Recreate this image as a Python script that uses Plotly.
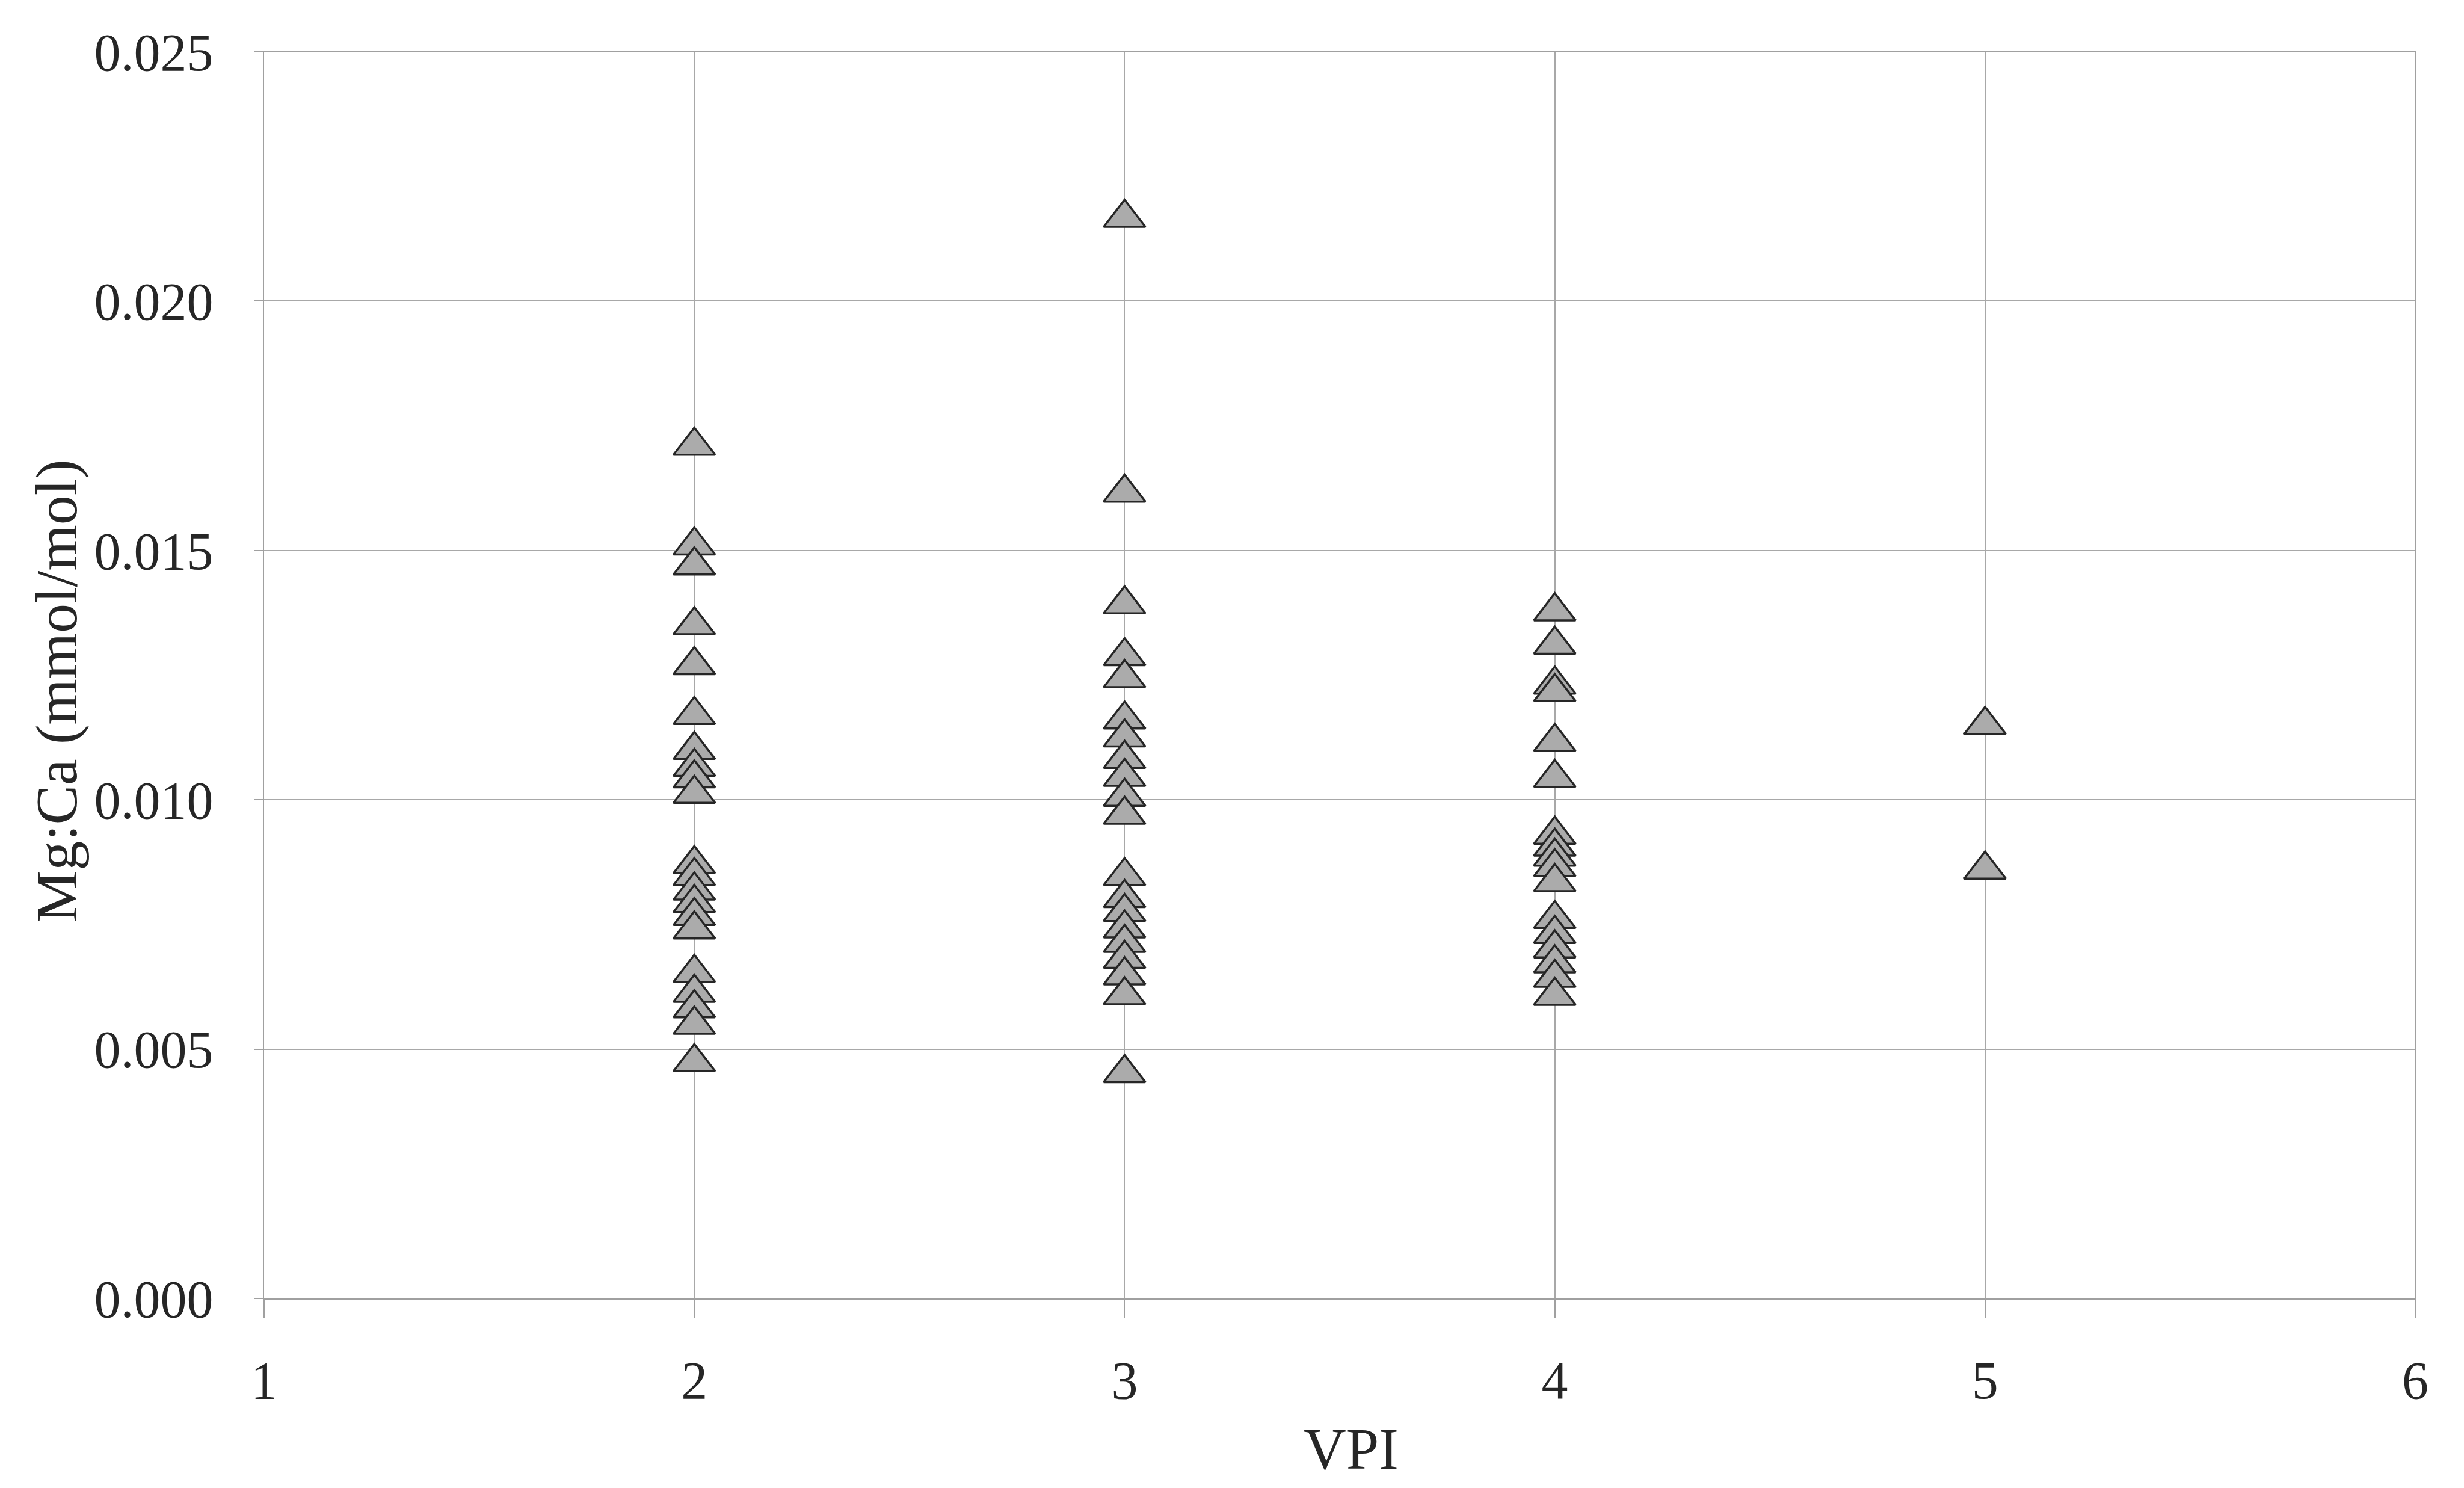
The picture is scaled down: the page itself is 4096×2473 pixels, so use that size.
import plotly.graph_objects as go

# VPI categories and Mg:Ca values (mmol/mol)
vpi2 = [0.0171, 0.0151, 0.0147, 0.0135, 0.0127, 0.0117, 0.0110, 0.01066, 0.01043, 0.01012,
        0.00871, 0.00847, 0.00818, 0.00793, 0.00767, 0.00740,
        0.00653, 0.00613, 0.00582, 0.00549, 0.00474]
vpi3 = [0.02167, 0.01616, 0.01392, 0.01288, 0.01244,
        0.01161, 0.01125, 0.01082, 0.01046, 0.01006, 0.00970,
        0.00847, 0.00803, 0.00775, 0.00742, 0.00713, 0.00681, 0.00648, 0.00608,
        0.00452]
vpi4 = [0.01378, 0.01311, 0.01231, 0.01216, 0.01116, 0.01044,
        0.00930, 0.00906, 0.00886, 0.00865, 0.00835,
        0.00761, 0.00731, 0.00702, 0.00672, 0.00643, 0.00607]
vpi5 = [0.0115, 0.0086]

groups = {2: vpi2, 3: vpi3, 4: vpi4, 5: vpi5}

x_ticks = [1, 2, 3, 4, 5, 6]
y_ticks = [0.000, 0.005, 0.010, 0.015, 0.020, 0.025]

xs, ys = [], []
for k, vals in groups.items():
    xs += [k] * len(vals)
    ys += vals

fig = go.Figure()
fig.add_trace(go.Scatter(
    x=xs, y=ys, mode="markers",
    marker=dict(symbol="triangle-up", size=60, color="#ababab",
                line=dict(color="#262626", width=3.5)),
    showlegend=False, hoverinfo="skip"))

axis_common = dict(showgrid=True, gridcolor="#a8a8a8", gridwidth=2,
                   showline=True, linecolor="#a0a0a0", linewidth=2, mirror=True,
                   ticks="outside", tickcolor="#a0a0a0", tickwidth=2,
                   zeroline=False,
                   tickfont=dict(family="Liberation Serif", size=88, color="#262626"))

fig.update_xaxes(range=[1, 6], tickvals=x_ticks, ticklen=30, ticklabelstandoff=28, **axis_common)
fig.update_yaxes(range=[0, 0.025], tickvals=y_ticks, tickformat=".3f", ticklen=15,
                 ticklabelstandoff=50, **axis_common)

fig.add_annotation(text="Mg:Ca (mmol/mol)", xref="paper", yref="paper",
                   x=-0.0965, y=0.487, xanchor="center", yanchor="middle",
                   textangle=-90, showarrow=False,
                   font=dict(family="Liberation Serif", size=98, color="#262626"))
fig.add_annotation(text="VPI", xref="paper", yref="paper",
                   x=0.5053, y=-0.1207, xanchor="center", yanchor="middle",
                   showarrow=False,
                   font=dict(family="Liberation Serif", size=98, color="#262626"))

fig.update_layout(width=4096, height=2473,
                  margin=dict(l=439, r=81, t=86, b=315),
                  paper_bgcolor="white", plot_bgcolor="white")

fig.write_html("out.html")
